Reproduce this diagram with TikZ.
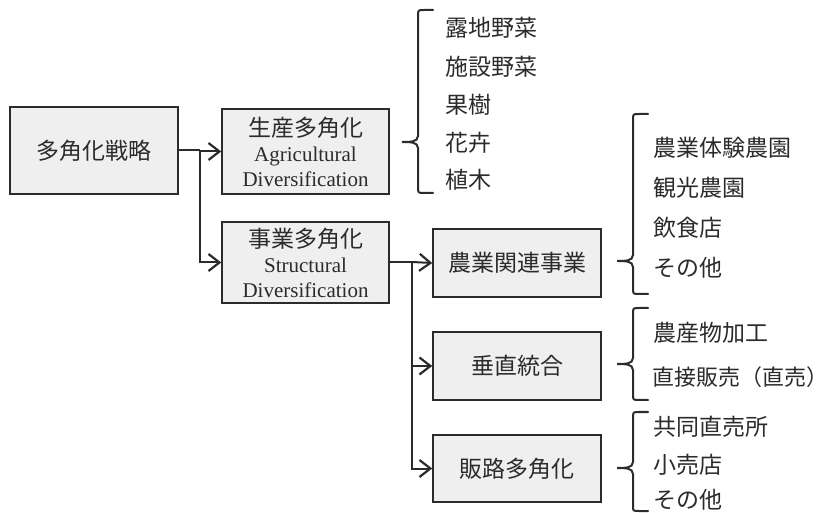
\documentclass[tikz,border=0pt]{standalone}
\usepackage{fontspec}
\setmainfont{Liberation Serif}
\newfontfamily\cjk{Noto Sans CJK JP}
\usetikzlibrary{arrows.meta}
\definecolor{ink}{HTML}{2B2B2B}
\definecolor{boxfill}{HTML}{EFEFEF}
\tikzset{
  box/.style={draw=ink, line width=1.5pt, fill=boxfill, inner sep=0pt, align=center, text=ink,
    font=\fontsize{21}{25}\selectfont},
  arr/.style={draw=ink, line width=2pt, -{Straight Barb[length=11pt,width=17pt,line width=2.2pt]}},
  ln/.style={draw=ink, line width=2pt},
  brc/.style={draw=ink, line width=2pt, line cap=round},
  item/.style={anchor=west, inner sep=0pt, text=ink, font=\cjk\fontsize{23}{23}\selectfont}
}
\newcommand{\jpbig}[1]{{\cjk\fontsize{23}{25}\selectfont #1}}
\begin{document}
\begin{tikzpicture}[x=1pt,y=-1pt]
\useasboundingbox (0,0) rectangle (831,513);

% boxes
\node[box, minimum width=168, minimum height=87] (a) at (94,150.5) {\jpbig{多角化戦略}};
\node[box, minimum width=167, minimum height=85] (b) at (305.5,151.5) {\jpbig{生産多角化}\\Agricultural\\Diversification};
\node[box, minimum width=167, minimum height=81] (c) at (305.5,262.5) {\jpbig{事業多角化}\\Structural\\Diversification};
\node[box, minimum width=168, minimum height=68] (d) at (517,263) {\jpbig{農業関連事業}};
\node[box, minimum width=168, minimum height=68] (e) at (517,366) {\jpbig{垂直統合}};
\node[box, minimum width=168, minimum height=67] (f) at (517,468.5) {\jpbig{販路多角化}};

% connectors
\coordinate (j1) at (200,150.5);
\coordinate (j2) at (412,262);
\draw[ln] (a.east) -- (j1);
\draw[arr] (j1) -- (j1 |- b.west) -- (b.west);
\draw[arr] (j1) |- (c.west);
\draw[ln] (c.east |- j2) -- (j2);
\draw[arr] (j2) -- (d.west);
\draw[arr] (j2) |- (e.west);
\draw[arr] (j2) |- (f.west);

% braces
\draw[brc] (433,10) -- (424,10) .. controls (418,10) .. (418,16) -- (418,136)
  .. controls (418,142) and (410,142) .. (402,142)
  .. controls (410,142) and (418,142) .. (418,148) -- (418,187)
  .. controls (418,193) .. (424,193) -- (433,193);
\draw[brc] (648,114) -- (639,114) .. controls (633,114) .. (633,120) -- (633,255)
  .. controls (633,261) and (625,261) .. (617,261)
  .. controls (625,261) and (633,261) .. (633,267) -- (633,288)
  .. controls (633,294) .. (639,294) -- (648,294);
\draw[brc] (648,308) -- (639,308) .. controls (633,308) .. (633,314) -- (633,358)
  .. controls (633,364) and (625,364) .. (617,364)
  .. controls (625,364) and (633,364) .. (633,370) -- (633,394)
  .. controls (633,400) .. (639,400) -- (648,400);
\draw[brc] (648,412) -- (639,412) .. controls (633,412) .. (633,418) -- (633,462)
  .. controls (633,468) and (625,468) .. (617,468)
  .. controls (625,468) and (633,468) .. (633,474) -- (633,506)
  .. controls (633,511) .. (639,511) -- (648,511);

% items
\node[item] (i11) at (445,28) {露地野菜};
\node[item] (i12) at (445,67) {施設野菜};
\node[item] (i13) at (445,105) {果樹};
\node[item] (i14) at (445,143) {花卉};
\node[item] (i15) at (445,180) {植木};

\node[item] (i21) at (653,148) {農業体験農園};
\node[item] (i22) at (653,188) {観光農園};
\node[item] (i23) at (653,228) {飲食店};
\node[item] (i24) at (653,268) {その他};

\node[item] (i31) at (653,333) {農産物加工};
\node[item, font=\cjk\fontsize{22}{22}\selectfont] (i32) at (652,377) {直接販売（直売）};

\node[item] (i41) at (653,427) {共同直売所};
\node[item] (i42) at (653,465) {小売店};
\node[item] (i43) at (653,500) {その他};
\end{tikzpicture}
\end{document}
